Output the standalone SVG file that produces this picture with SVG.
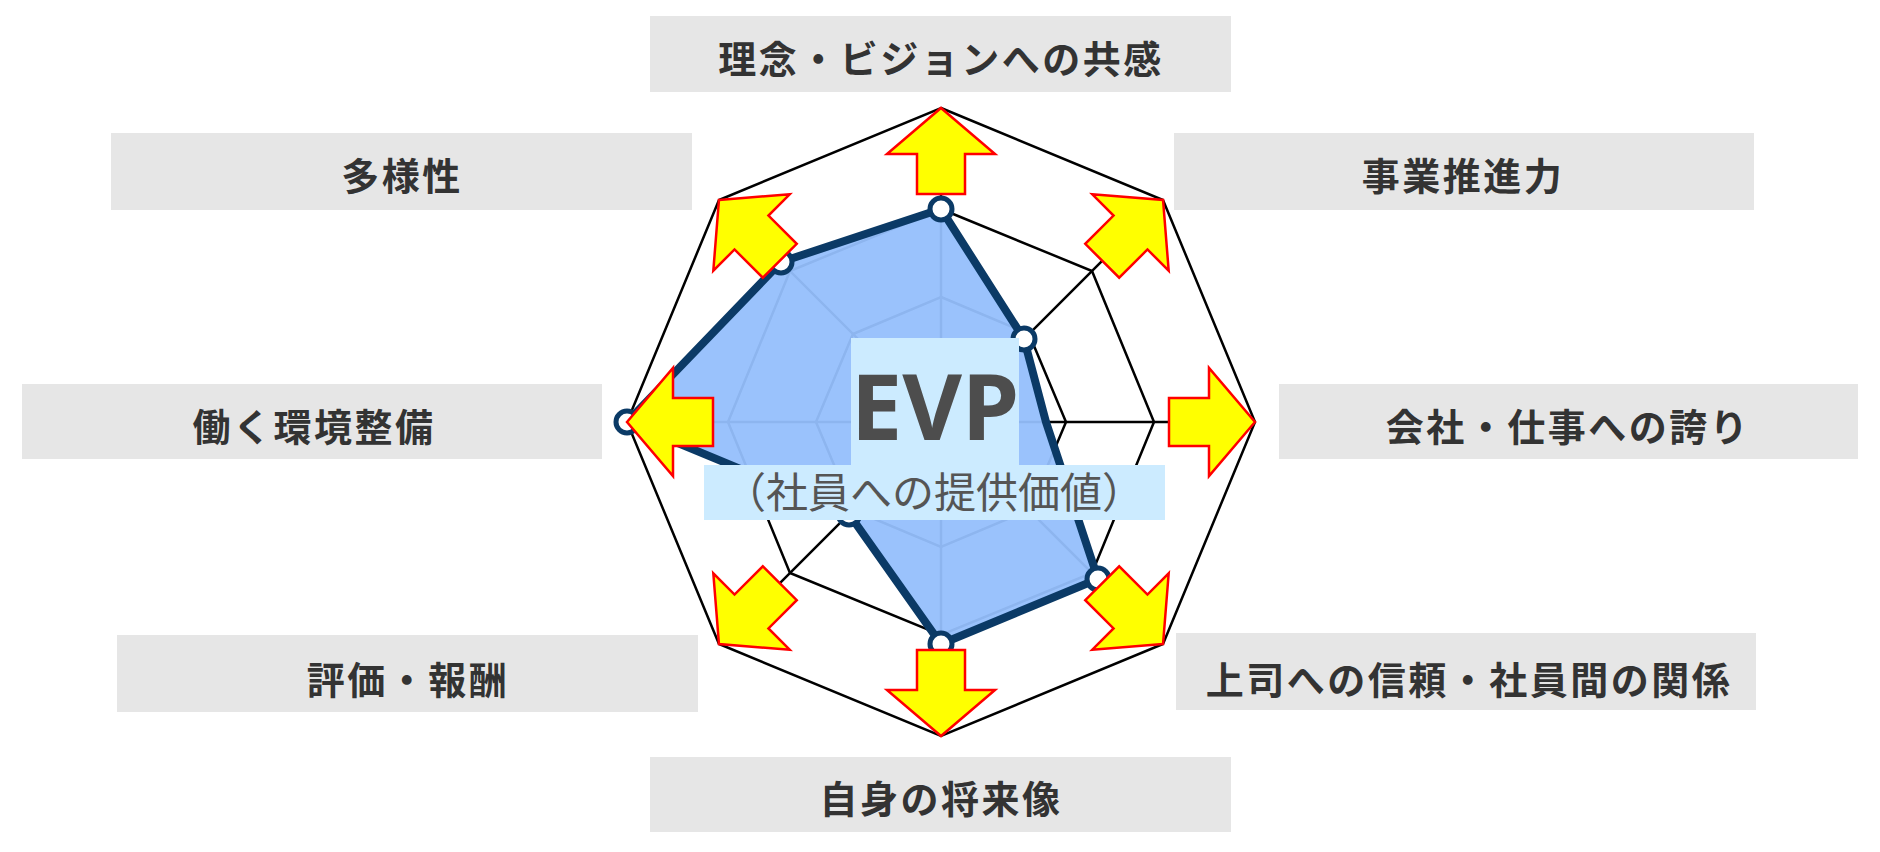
<svg xmlns="http://www.w3.org/2000/svg" xmlns:xlink="http://www.w3.org/1999/xlink" width="1880" height="852" viewBox="0 0 1880 852">
<style>
.box{fill:#E6E6E6}
.lbl{font-family:"Noto Sans CJK JP","Noto Sans CJK SC",sans-serif;font-weight:bold;font-size:38px;letter-spacing:2.5px;fill:#333;text-anchor:middle}
.grid{fill:none;stroke:#000;stroke-width:2.5}
.arr{fill:#FFFF00;stroke:#FF0000;stroke-width:2.5;stroke-linejoin:miter}
.pt{fill:#fff;stroke:#0B3A66;stroke-width:5}
</style>
<defs>
<path id="ar" class="arr" d="M0,-314 L54,-268 L24,-268 L24,-228 L-24,-228 L-24,-268 L-54,-268 Z"/>
</defs>
<rect width="1880" height="852" fill="#fff"/>
<g id="connectors">
<polygon class="grid" points="941,108 1163,200 1255,422 1163,644 941,736 719,644 627,422 719,200"/>
<polygon class="grid" points="941,209 1092,271 1154,422 1092,573 941,635 790,573 728,422 790,271"/>
<polygon class="grid" points="941,297 1029,334 1066,422 1029,510 941,547 853,510 816,422 853,334"/>
<path class="grid" d="M941,108V736M627,422H1255M719,200L1163,644M1163,200L719,644"/>
</g>
<g id="data">
<polygon points="941,209 1024,339 1046,422 1098,579 941,644 849,514 627,422 781,262" fill="#95BFFC" fill-opacity="0.95" stroke="#0B3A66" stroke-width="8" stroke-linejoin="miter"/>
<circle class="pt" cx="941" cy="209" r="11"/><circle class="pt" cx="1024" cy="339" r="11"/>
<circle class="pt" cx="1098" cy="579" r="11"/><circle class="pt" cx="941" cy="644" r="11"/>
<circle class="pt" cx="849" cy="514" r="11"/><circle class="pt" cx="627" cy="422" r="11"/>
<circle class="pt" cx="781" cy="262" r="11"/>
</g>
<g id="arrows">
<use xlink:href="#ar" transform="translate(941 422)"/>
<use xlink:href="#ar" transform="translate(941 422) rotate(45)"/>
<use xlink:href="#ar" transform="translate(941 422) rotate(90)"/>
<use xlink:href="#ar" transform="translate(941 422) rotate(135)"/>
<use xlink:href="#ar" transform="translate(941 422) rotate(180)"/>
<use xlink:href="#ar" transform="translate(941 422) rotate(225)"/>
<use xlink:href="#ar" transform="translate(941 422) rotate(270)"/>
<use xlink:href="#ar" transform="translate(941 422) rotate(315)"/>
</g>
<g id="center">
<rect x="851" y="338" width="168" height="130" fill="#CCEBFF"/>
<rect x="704" y="465" width="461" height="55" fill="#CCEBFF"/>
<text x="935" y="440" font-family="'Noto Sans','Liberation Sans',sans-serif" font-weight="bold" font-size="92" fill="#4D4D4D" text-anchor="middle">EVP</text>
<text x="934" y="508" font-family="'Noto Sans CJK JP',sans-serif" font-size="42" fill="#555" text-anchor="middle">（社員への提供価値）</text>
</g>
<g id="n1"><rect class="box" x="650" y="16" width="581" height="76"/><text class="lbl" x="941" y="73">理念・ビジョンへの共感</text></g>
<g id="n2"><rect class="box" x="111" y="133" width="581" height="77"/><text class="lbl" x="402" y="190">多様性</text></g>
<g id="n3"><rect class="box" x="1174" y="133" width="580" height="77"/><text class="lbl" x="1463" y="190">事業推進力</text></g>
<g id="n4"><rect class="box" x="22" y="384" width="580" height="75"/><text class="lbl" x="314" y="441">働く環境整備</text></g>
<g id="n5"><rect class="box" x="1279" y="384" width="579" height="75"/><text class="lbl" x="1568" y="441">会社・仕事への誇り</text></g>
<g id="n6"><rect class="box" x="117" y="635" width="581" height="77"/><text class="lbl" x="408" y="694">評価・報酬</text></g>
<g id="n7"><rect class="box" x="1176" y="633" width="580" height="77"/><text class="lbl" x="1469" y="694">上司への信頼・社員間の関係</text></g>
<g id="n8"><rect class="box" x="650" y="757" width="581" height="75"/><text class="lbl" x="941" y="813">自身の将来像</text></g>
</svg>
